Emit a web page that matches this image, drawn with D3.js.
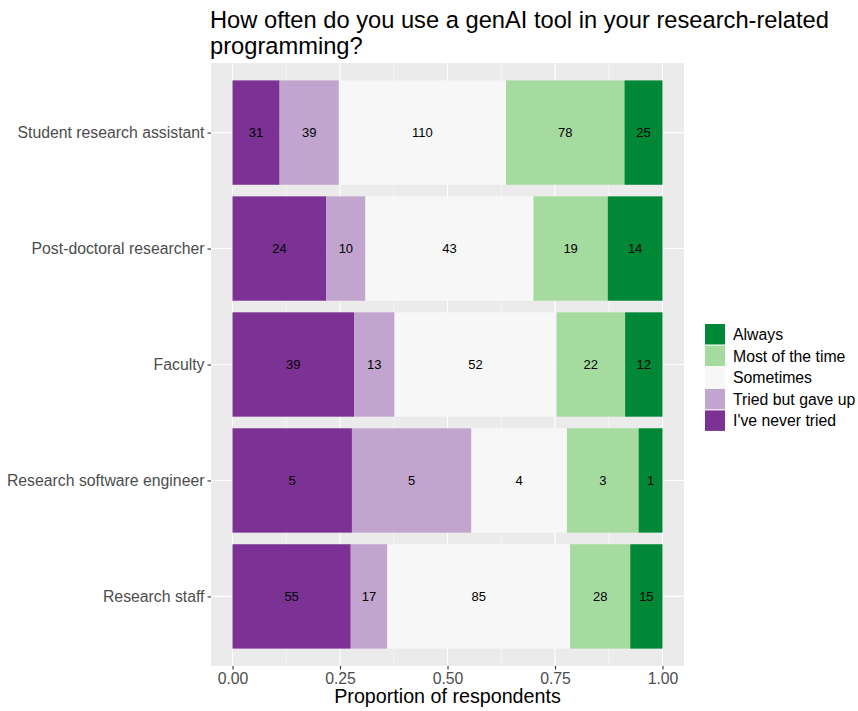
<!DOCTYPE html>
<html><head><meta charset="utf-8">
<script src="https://cdn.jsdelivr.net/npm/d3@7"></script>
<style>body{margin:0;background:#fff;} text{font-family:"Liberation Sans",Arial,Helvetica,sans-serif;}</style>
</head><body>
<svg id="c" width="858" height="711"></svg>
<script>
const categories = ["Student research assistant","Post-doctoral researcher","Faculty","Research software engineer","Research staff"];
const responses = ["I've never tried","Tried but gave up","Sometimes","Most of the time","Always"];
const neverTried = [31,24,39,5,55];
const triedGaveUp = [39,10,13,5,17];
const sometimes = [110,43,52,4,85];
const mostOfTime = [78,19,22,3,28];
const always = [25,14,12,1,15];
const colors = ["#7b3294","#c2a5cf","#f7f7f7","#a6dba0","#008837"];
const xTicks = [0,0.25,0.5,0.75,1];
const xTickLabels = ["0.00","0.25","0.50","0.75","1.00"];

const series = [neverTried,triedGaveUp,sometimes,mostOfTime,always];
const svg = d3.select("#c");
const P = {l:211, r:684, t:63, b:666};
const x = d3.scaleLinear().domain([-0.05,1.05]).range([P.l,P.r]);
const yc = d3.scalePoint().domain(categories).range([P.t,P.b]).padding(0.6);
const step = yc.step();
const bw = step*0.9;

svg.append("rect").attr("x",P.l).attr("y",P.t).attr("width",P.r-P.l).attr("height",P.b-P.t).attr("fill","#ebebeb");
[0.125,0.375,0.625,0.875].forEach(v=>{
  svg.append("line").attr("x1",x(v)).attr("x2",x(v)).attr("y1",P.t).attr("y2",P.b).attr("stroke","#fff").attr("stroke-width",0.55);
});
xTicks.forEach(v=>{
  svg.append("line").attr("x1",x(v)).attr("x2",x(v)).attr("y1",P.t).attr("y2",P.b).attr("stroke","#fff").attr("stroke-width",1.1);
});
categories.forEach(c=>{
  svg.append("line").attr("x1",P.l).attr("x2",P.r).attr("y1",yc(c)).attr("y2",yc(c)).attr("stroke","#fff").attr("stroke-width",1.1);
});

categories.forEach((c,i)=>{
  const total = d3.sum(series, s=>s[i]);
  let cum = 0;
  series.forEach((s,j)=>{
    const v = s[i]/total;
    const x0 = x(cum), x1 = x(cum+v);
    svg.append("rect").attr("x",x0).attr("y",yc(c)-bw/2).attr("width",x1-x0).attr("height",bw).attr("fill",colors[j]);
    svg.append("text").attr("x",(x0+x1)/2).attr("y",yc(c)).attr("dy","0.35em").attr("text-anchor","middle")
      .attr("font-size",13).attr("fill","#000").text(s[i]);
    cum += v;
  });
});

const gx = svg.append("g").attr("transform",`translate(0,${P.b})`)
  .call(d3.axisBottom(x).tickValues(xTicks).tickFormat((d,i)=>xTickLabels[i]).tickSize(3.5).tickPadding(3));
gx.select(".domain").remove();
gx.selectAll("line").attr("stroke","#333").attr("stroke-width",1.1);
gx.selectAll("text").attr("font-size",15.8).attr("fill","#4d4d4d").attr("font-family","Liberation Sans,Arial,sans-serif");

const gy = svg.append("g").attr("transform",`translate(${P.l},0)`)
  .call(d3.axisLeft(yc).tickSize(3.5).tickPadding(3));
gy.select(".domain").remove();
gy.selectAll("line").attr("stroke","#333").attr("stroke-width",1.1);
gy.selectAll("text").attr("font-size",15.8).attr("fill","#4d4d4d").attr("font-family","Liberation Sans,Arial,sans-serif");

svg.append("text").attr("x",(P.l+P.r)/2).attr("y",703).attr("text-anchor","middle").attr("font-size",19.7).attr("fill","#000").text("Proportion of respondents");

svg.append("text").attr("x",210).attr("y",28).attr("font-size",23.7).attr("fill","#000").text("How often do you use a genAI tool in your research-related");
svg.append("text").attr("x",210).attr("y",54).attr("font-size",23.7).attr("fill","#000").text("programming?");

const legOrder = [4,3,2,1,0];
legOrder.forEach((j,k)=>{
  const yy = 324 + k*21.6;
  svg.append("rect").attr("x",705).attr("y",yy).attr("width",20).attr("height",20.5).attr("fill",colors[j]);
  svg.append("text").attr("x",733).attr("y",yy+10.5).attr("dy","0.35em").attr("font-size",15.8).attr("fill","#000").text(responses[j]);
});
</script>
</body></html>
